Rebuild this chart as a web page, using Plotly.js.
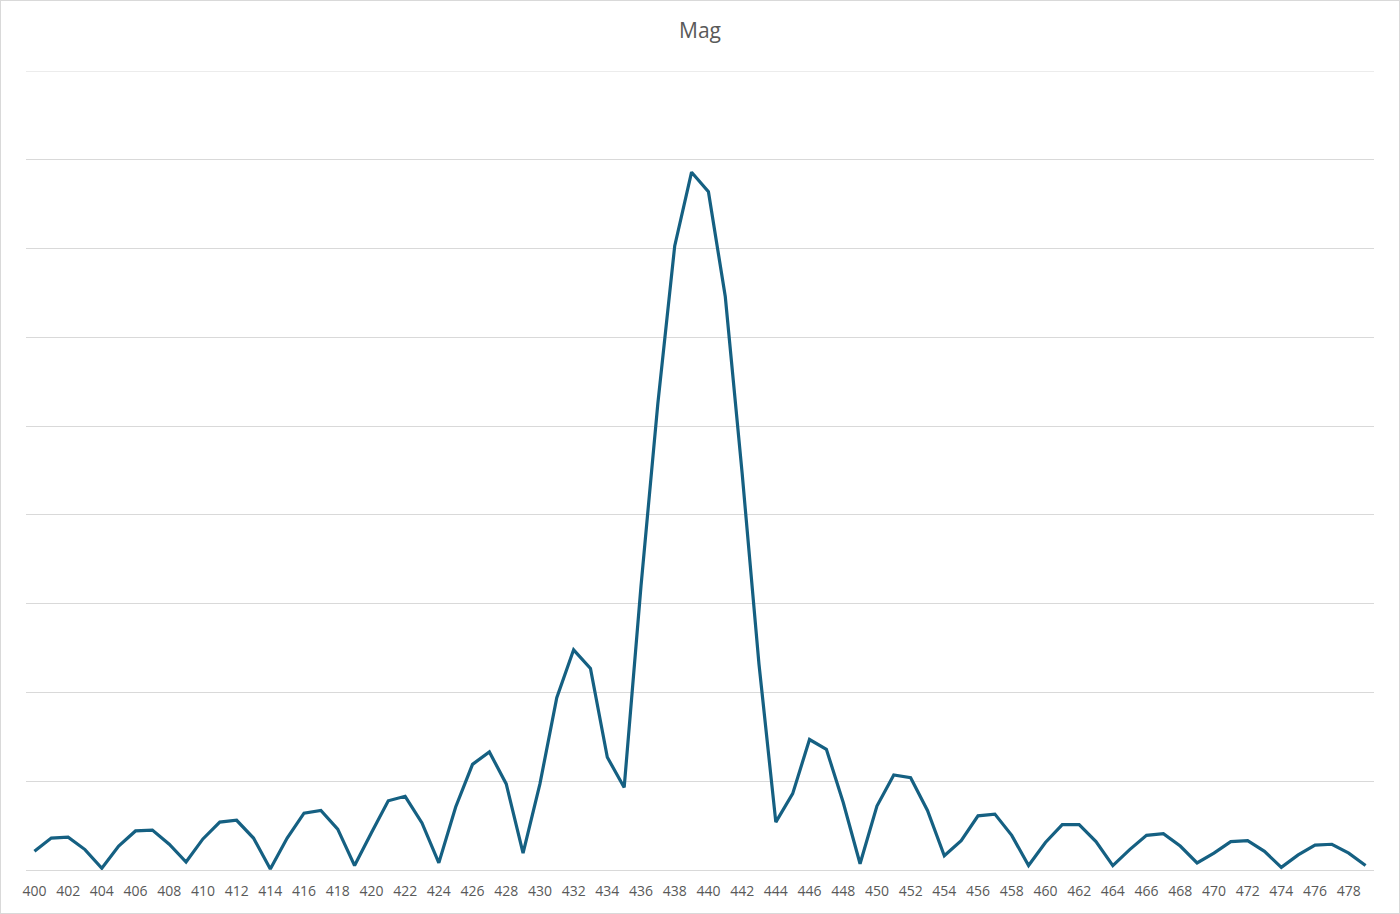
<!DOCTYPE html>
<html>
<head>
<meta charset="utf-8">
<script src="https://cdn.plot.ly/plotly-3.0.1.min.js"></script>
<style>
  html, body { margin: 0; padding: 0; background: #fff; }
  #frame { width: 1400px; height: 914px; box-sizing: border-box; border: 1px solid #d9d9d9; }
  #chart { width: 1398px; height: 912px; }
</style>
</head>
<body>
<div id="frame"><div id="chart"></div></div>
<script>
const titleText = "Mag";
const xValues = [];
for (let i = 400; i <= 479; i++) xValues.push(i);
const magValues = [
  0.21, 0.36, 0.37, 0.23, 0.02, 0.27, 0.44, 0.45, 0.29, 0.09,
  0.35, 0.54, 0.56, 0.36, 0.01, 0.36, 0.64, 0.67, 0.46, 0.05,
  0.42, 0.78, 0.83, 0.53, 0.08, 0.71, 1.19, 1.33, 0.97, 0.19,
  0.97, 1.94, 2.48, 2.27, 1.27, 0.93, 3.2, 5.26, 7.03, 7.86,
  7.64, 6.46, 4.47, 2.32, 0.54, 0.86, 1.47, 1.36, 0.76, 0.07,
  0.72, 1.07, 1.04, 0.67, 0.16, 0.33, 0.61, 0.63, 0.39, 0.05,
  0.31, 0.51, 0.51, 0.32, 0.05, 0.23, 0.39, 0.41, 0.27, 0.08,
  0.19, 0.32, 0.33, 0.21, 0.03, 0.17, 0.28, 0.29, 0.19, 0.05
];
const yMax = 9;

const trace = {
  x: xValues,
  y: magValues,
  type: 'scatter',
  mode: 'lines',
  line: { color: '#156082', width: 3.2 },
  hoverinfo: 'x+y'
};

const layout = {
  width: 1398,
  height: 912,
  margin: { l: 25, r: 25, t: 70, b: 43 },
  paper_bgcolor: '#ffffff',
  plot_bgcolor: '#ffffff',
  showlegend: false,
  title: {
    text: titleText,
    font: { family: 'Open Sans, Lato, sans-serif', size: 21, color: '#595959' },
    x: 0.5, xanchor: 'center',
    y: 1 - 30 / 912, yanchor: 'middle', yref: 'container'
  },
  xaxis: {
    range: [399.5, 479.5],
    tick0: 400, dtick: 2, tickmode: 'linear',
    showgrid: false,
    zeroline: false,
    showline: true, linecolor: '#d9d9d9', linewidth: 1,
    ticks: 'outside', ticklen: 8, tickcolor: 'rgba(0,0,0,0)',
    tickfont: { family: 'Open Sans, Lato, sans-serif', size: 14, color: '#595959' },
    fixedrange: true
  },
  yaxis: {
    range: [0, yMax],
    tick0: 0, dtick: 1, tickmode: 'linear',
    showgrid: true, gridcolor: '#d9d9d9', gridwidth: 1,
    zeroline: false,
    showticklabels: false,
    showline: false,
    fixedrange: true
  },
  shapes: [{
    type: 'line', layer: 'below',
    xref: 'paper', yref: 'y',
    x0: 0, x1: 1, y0: yMax, y1: yMax,
    line: { color: '#d9d9d9', width: 1 }
  }]
};

Plotly.newPlot('chart', [trace], layout, { displayModeBar: false, staticPlot: true });
</script>
</body>
</html>
